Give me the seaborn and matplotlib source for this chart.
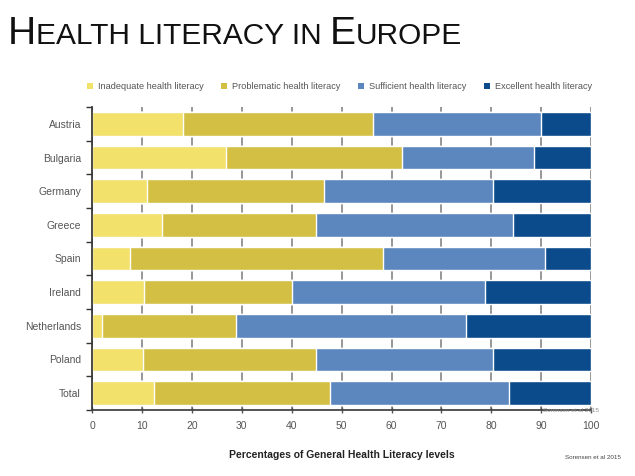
import numpy as np
import pandas as pd
import seaborn as sns
import matplotlib.pyplot as plt
from matplotlib.patches import Patch
from matplotlib.ticker import MultipleLocator, FixedLocator

countries = ["Austria", "Bulgaria", "Germany", "Greece", "Spain",
             "Ireland", "Netherlands", "Poland", "Total"]
levels = ["Inadequate health literacy", "Problematic health literacy",
          "Sufficient health literacy", "Excellent health literacy"]
inadequate = [18.2, 26.9, 11.1, 14.0, 7.6, 10.4, 1.9, 10.3, 12.4]
problematic = [38.1, 35.2, 35.3, 30.9, 50.6, 29.7, 27.0, 34.5, 35.3]
sufficient = [33.7, 26.5, 34.0, 39.5, 32.6, 38.7, 46.1, 35.6, 35.9]
excellent = [10.0, 11.4, 19.6, 15.6, 9.2, 21.2, 25.0, 19.6, 16.4]
colors = ["#f2e16a", "#d4bf45", "#5b87be", "#0b4a8b"]

sns.set_theme(style="white")
plt.rcParams['font.family'] = ['Liberation Sans', 'DejaVu Sans']

df = pd.DataFrame({"country": countries, levels[0]: inadequate, levels[1]: problematic,
                   levels[2]: sufficient, levels[3]: excellent})
# cumulative sums so each layer overdraws the previous one
cum = df[levels].cumsum(axis=1)

fig = plt.figure(figsize=(6.35, 4.76), dpi=100)
ax = fig.add_axes([0.145, 0.139, 0.786, 0.636])

for lvl, col in reversed(list(zip(levels, colors))):
    sns.barplot(x=cum[lvl], y=df["country"], color=col, orient="h",
                width=0.7, saturation=1, ax=ax, zorder=2)

ax.set_xlim(0, 100)
ax.set_ylim(len(countries) - 0.5, -0.5)
ax.xaxis.set_major_locator(MultipleLocator(10))
ax.grid(axis="x", color="#7a7a7a", lw=1.1, zorder=0)
ax.set_axisbelow(True)
ax.yaxis.set_minor_locator(FixedLocator(np.arange(-0.5, len(countries), 1)))
ax.tick_params(axis="y", which="major", length=0, labelsize=7.5, labelcolor="#555555", pad=8)
ax.tick_params(axis="y", which="minor", left=True, length=4, width=1, color="#333333")
ax.tick_params(axis="x", bottom=True, length=4, width=1, color="#555555",
               direction="inout", labelsize=7.5, labelcolor="#555555", pad=6)
for side in ["top", "right"]:
    ax.spines[side].set_visible(False)
ax.spines["left"].set_color("#333333")
ax.spines["bottom"].set_color("#444444")
ax.spines["bottom"].set_linewidth(1.3)
ax.set_ylabel("")
ax.set_xlabel("Percentages of General Health Literacy levels", fontsize=7.5,
              fontweight="bold", color="#222222", labelpad=14)

handles = [Patch(facecolor=c, edgecolor="none") for c in colors]
fig.legend(handles, levels, loc="center", bbox_to_anchor=(0.535, 0.818), ncol=4,
           frameon=False, fontsize=6.6, labelcolor="#555555", handlelength=0.6,
           handleheight=0.6, handletextpad=0.6, columnspacing=1.9)

# small-caps style title: large initials, smaller capitals
parts = [("H", 28), ("EALTH LITERACY IN ", 21.5), ("E", 28), ("UROPE", 21.5)]
r = fig.canvas.get_renderer()
x = 0.012
for txt, size in parts:
    t = fig.text(x, 0.908, txt, fontsize=size, color="#111111", va="baseline")
    x += t.get_window_extent(renderer=r).width / fig.bbox.width

fig.text(0.89, 0.036, "Sorensen et al 2015", fontsize=4.5, color="#444444")
fig.text(0.855, 0.135, "Sorensen et al 2015", fontsize=4.5, color="#888888")

fig.savefig("out.png", dpi=100)
